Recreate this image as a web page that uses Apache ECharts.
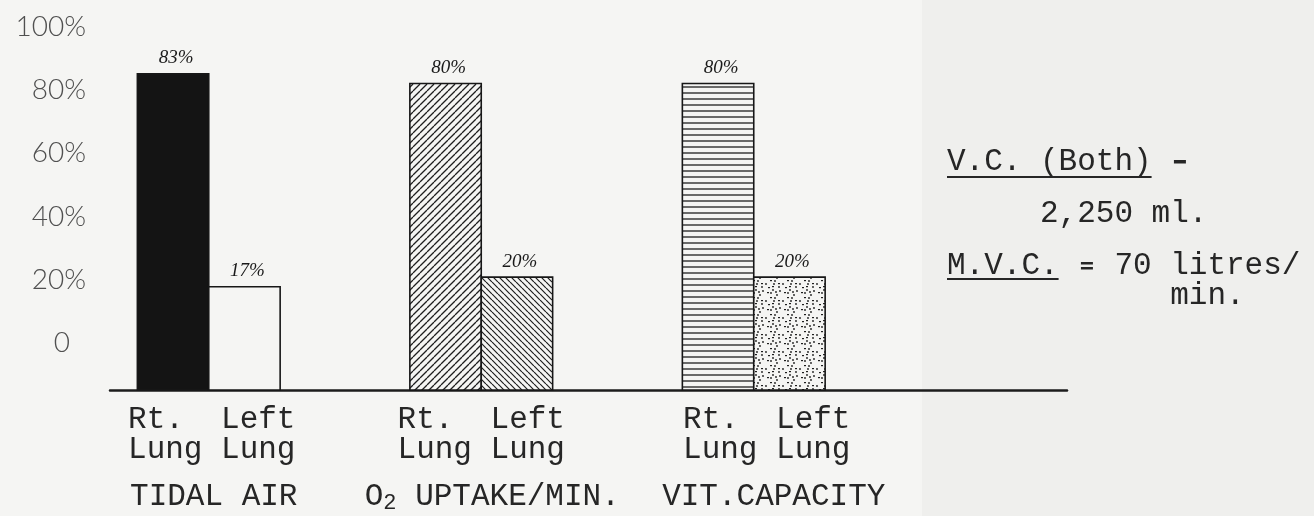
<!DOCTYPE html>
<html>
<head>
<meta charset="utf-8">
<script src="https://cdn.jsdelivr.net/npm/echarts@6/dist/echarts.min.js"></script>
<style>
  html, body { margin: 0; padding: 0; background: #f5f5f3; }
  #chart { width: 1314px; height: 516px; }
</style>
</head>
<body>
<div id="chart"></div>
<script>
// ---- data ----
const categories = ['TIDAL AIR', 'O2 UPTAKE/MIN.', 'VIT.CAPACITY'];
const subLine1 = ['Rt.  Left', 'Rt.  Left', 'Rt.  Left'];
const subLine2 = ['Lung Lung', 'Lung Lung', 'Lung Lung'];
const rtLung = [83, 80, 80];
const leftLung = [17, 20, 20];
const yTicks = [0, 20, 40, 60, 80, 100];
const noteLines = ['V.C. (Both) ', '2,250 ml.', 'M.V.C. ', ' 70 litres/', 'min.'];

// ---- styles ----
const PAPER = '#f5f5f3';
const INK = '#171717';
const TYPE = '#262626';
const MONO = '"Liberation Mono", "DejaVu Sans Mono", monospace';
const YFONT = 'Lato, "Open Sans", sans-serif';
const Y_MIN = -15;
const lineShift = [3, 0, 13];     // horizontal nudges of the typed label lines (px)
const titleShift = [5, 11, 20];

function tile(w, h, draw) {
  const c = document.createElement('canvas');
  c.width = w; c.height = h;
  const g = c.getContext('2d');
  g.fillStyle = PAPER; g.fillRect(0, 0, w, h);
  g.strokeStyle = '#1e1e1e'; g.fillStyle = '#1e1e1e';
  draw(g, w, h);
  return { image: c, repeat: 'repeat' };
}
const hatchUp = tile(7, 7, (g, s) => {
  g.lineWidth = 1.3; g.beginPath();
  for (let k = -1; k <= 1; k++) { g.moveTo(k * s, s); g.lineTo(k * s + s, 0); }
  g.stroke();
});
const hatchDown = tile(6, 6, (g, s) => {
  g.lineWidth = 1.2; g.beginPath();
  for (let k = -1; k <= 1; k++) { g.moveTo(k * s, 0); g.lineTo(k * s + s, s); }
  g.stroke();
});
const hLines = tile(4, 6, (g, w) => {
  g.lineWidth = 1.3; g.beginPath(); g.moveTo(0, 3); g.lineTo(w, 3); g.stroke();
});
const dotSpots = [[2,3],[8,1],[12,6],[5,8],[1,12],[9,12],[13,11],[6,4],[10,9],[3,15],[15,2],[14,15],[7,14],[11,3]];
const dots = tile(17, 17, (g) => {
  dotSpots.forEach(([x, y], i) => {
    g.beginPath();
    if (i % 3 === 0) { g.fillRect(x, y, 2, 1.2); }
    else { g.arc(x, y, 0.9, 0, Math.PI * 2); g.fill(); }
  });
});
const rtFills = ['#141414', hatchUp, hLines];
const leftFills = [PAPER, hatchDown, dots];

function makeRender(side) {
  return function (params, api) {
    const cat = api.value(0), val = api.value(1);
    const top = api.coord([cat, val]);
    const base = api.coord([cat, Y_MIN]);
    const band = api.size([1, 0])[0];
    const w = band * 0.262;
    const x = side === 0 ? top[0] - w : top[0];
    const fill = (side === 0 ? rtFills : leftFills)[params.dataIndex];
    return {
      type: 'group',
      children: [
        { type: 'rect', shape: { x: x, y: top[1], width: w, height: base[1] - top[1] },
          style: { fill: fill, stroke: INK, lineWidth: 1.6 } },
        { type: 'text', x: x + w / 2 + 3, y: top[1] - 6,
          style: { text: val + '%', fill: '#1a1a1a', font: 'italic 19px "Liberation Serif", serif',
                   textAlign: 'center', textVerticalAlign: 'bottom', align: 'center', verticalAlign: 'bottom' } }
      ]
    };
  };
}

function catLabel(v, i) {
  let third;
  if (/^O2/.test(v)) third = '{c' + i + '|O}{s|2}{t|' + v.slice(2) + '}';
  else third = '{c' + i + '|' + v + '}';
  return '{a' + i + '|' + subLine1[i] + '}\n{a' + i + '|' + subLine2[i] + '}\n' + third;
}
const rich = {
  s: { fontFamily: MONO, fontSize: 22, lineHeight: 64, color: TYPE, padding: [12, 0, 0, 0] },
  t: { fontFamily: MONO, fontSize: 31, lineHeight: 64, color: TYPE }
};
for (let i = 0; i < 3; i++) {
  rich['a' + i] = { fontFamily: MONO, fontSize: 31, lineHeight: 30, color: TYPE, padding: [0, 0, 0, 2 * lineShift[i]] };
  rich['c' + i] = { fontFamily: MONO, fontSize: 31, lineHeight: 64, color: TYPE, padding: [0, 0, 0, 2 * titleShift[i]] };
}

const chart = echarts.init(document.getElementById('chart'), null, { renderer: 'canvas' });
const noteX = 947;
const cw = 18.6;
const noteFont = '31px ' + MONO;
chart.setOption({
  backgroundColor: PAPER,
  animation: false,
  grid: [
    { left: 94, right: 1100, top: 27, bottom: 173 },
    { left: 72.5, right: 424, top: 19, bottom: 126 },
    { left: 110, right: 247, top: 19, bottom: 126 }
  ],
  xAxis: [
    { gridIndex: 0, type: 'value', show: false, min: 0, max: 1 },
    { gridIndex: 1, type: 'category', data: categories,
      axisLine: { show: false }, axisTick: { show: false },
      axisLabel: { interval: 0, margin: 15, formatter: catLabel, color: TYPE, rich: rich } },
    { gridIndex: 2, type: 'value', min: 0, max: 1,
      axisLine: { show: true, lineStyle: { color: '#1c1c1c', width: 2.5 } },
      axisTick: { show: false }, axisLabel: { show: false }, splitLine: { show: false } }
  ],
  yAxis: [
    { gridIndex: 0, type: 'value', min: 0, max: 100, interval: 20,
      axisLine: { show: false }, axisTick: { show: false }, splitLine: { show: false },
      axisLabel: {
        margin: 8, color: '#505050', fontFamily: YFONT, fontWeight: 300, fontSize: 28,
        formatter: v => yTicks.indexOf(v) < 0 ? '' : (v === 0 ? '{z|0}' : v + '%'),
        rich: { z: { fontFamily: YFONT, fontWeight: 300, fontSize: 28, color: '#505050', padding: [0, 16, 0, 0] } }
      } },
    { gridIndex: 1, type: 'value', min: Y_MIN, max: 100, show: false, splitLine: { show: false } },
    { gridIndex: 2, type: 'value', min: 0, max: 1, show: false }
  ],
  series: [
    { name: 'Rt. Lung', type: 'custom', xAxisIndex: 1, yAxisIndex: 1,
      renderItem: makeRender(0), encode: { x: 0, y: 1 },
      data: rtLung.map((v, i) => [i, v]) },
    { name: 'Left Lung', type: 'custom', xAxisIndex: 1, yAxisIndex: 1,
      renderItem: makeRender(1), encode: { x: 0, y: 1 },
      data: leftLung.map((v, i) => [i, v]) }
  ],
  graphic: [
    { type: 'rect', z: -10, shape: { x: 922, y: 0, width: 392, height: 516 }, style: { fill: '#efefed' } },
    { type: 'text', left: noteX, top: 146, style: { text: noteLines[0], font: noteFont, fill: TYPE } },
    { type: 'rect', shape: { x: noteX + 12.2 * cw, y: 160, width: 12, height: 3.5 }, style: { fill: TYPE } },
    { type: 'line', shape: { x1: noteX, y1: 177, x2: noteX + 11 * cw, y2: 177 }, style: { stroke: TYPE, lineWidth: 2 } },
    { type: 'text', left: noteX + 5 * cw, top: 198, style: { text: noteLines[1], font: noteFont, fill: TYPE } },
    { type: 'text', left: noteX, top: 250, style: { text: noteLines[2], font: noteFont, fill: TYPE } },
    { type: 'rect', shape: { x: noteX + 7.2 * cw, y: 262, width: 12, height: 2.5 }, style: { fill: TYPE } },
    { type: 'rect', shape: { x: noteX + 7.2 * cw, y: 267, width: 12, height: 2.5 }, style: { fill: TYPE } },
    { type: 'text', left: noteX + 8 * cw, top: 250, style: { text: noteLines[3], font: noteFont, fill: TYPE } },
    { type: 'line', shape: { x1: noteX, y1: 279, x2: noteX + 6 * cw, y2: 279 }, style: { stroke: TYPE, lineWidth: 2 } },
    { type: 'text', left: noteX + 12 * cw, top: 280, style: { text: noteLines[4], font: noteFont, fill: TYPE } }
  ]
});
</script>
</body>
</html>
